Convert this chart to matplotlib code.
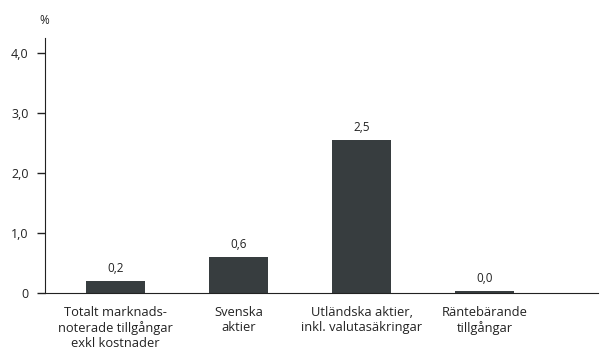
import matplotlib
matplotlib.use("Agg")
import matplotlib.pyplot as plt

categories = ["Totalt marknads-\nnoterade tillgångar\nexkl kostnader",
              "Svenska\naktier",
              "Utländska aktier,\ninkl. valutasäkringar",
              "Räntebärande\ntillgångar"]
values = [0.205, 0.605, 2.55, 0.03]
labels = ["0,2", "0,6", "2,5", "0,0"]
yticks = [0, 1, 2, 3, 4]
yticklabels = ["0", "1,0", "2,0", "3,0", "4,0"]

plt.rcParams['font.family'] = ['Open Sans', 'DejaVu Sans']
fig = plt.figure(figsize=(6.07, 3.49), dpi=100)
ax = fig.add_axes([44.5/607, 1-293/349, (598-44.5)/607, (293-38)/349])

color = "#373d3f"
x = list(range(len(categories)))
ax.bar(x, values, width=0.48, color=color)
for xi, v, l in zip(x, values, labels):
    ax.text(xi, v + 0.1, l, ha="center", va="bottom", fontsize=8.5, color="#222222")

ax.set_xlim(-0.577, 3.92)
ax.set_ylim(0, 4.25)
ax.set_yticks(yticks)
ax.set_yticklabels(yticklabels, fontsize=9, color="#222222")
ax.set_xticks(x)
ax.set_xticklabels(categories, fontsize=9.3, color="#222222", linespacing=1.22)
ax.tick_params(axis="x", length=0, pad=9)
ax.tick_params(axis="y", length=6, width=1, color="#222222", pad=5.5)
for s in ["top", "right"]:
    ax.spines[s].set_visible(False)
ax.spines["left"].set_color("#222222")
ax.spines["bottom"].set_color("#222222")
fig.text(44.5/607, 1-20/349, "%", ha="center", va="center", fontsize=8.5, color="#222222")
fig.savefig("out.png", dpi=100)
